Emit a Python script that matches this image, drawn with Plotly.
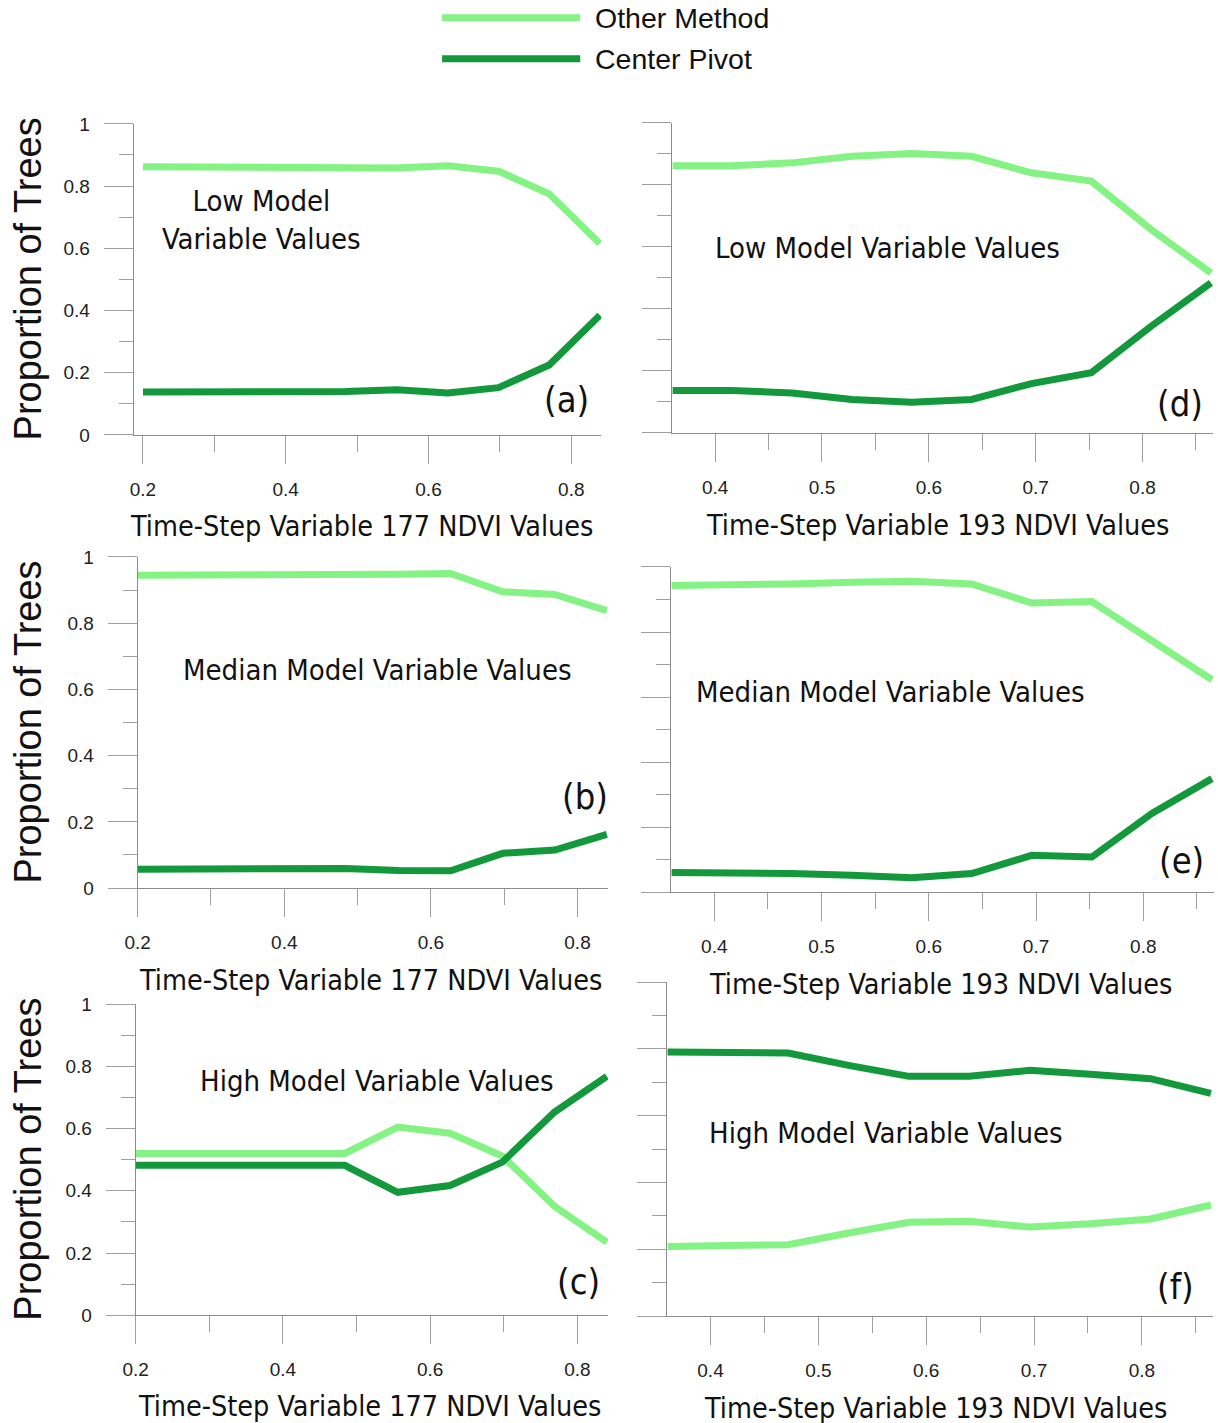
import plotly.graph_objects as go
from plotly.subplots import make_subplots

# Figure size and the mapping from reference-picture pixels to figure paper coords
FW, FH = 1217, 1429
OFF = 8                     # html body margin
SX, OX = 0.988, 4.6         # measured picture scale / offset (horizontal)
SY, OY = 0.985, 2.3         # measured picture scale / offset (vertical)

# ---------------- data ----------------
series_names = ["Other Method", "Center Pivot"]
x177 = [0.2, 0.271, 0.342, 0.413, 0.484, 0.556, 0.627, 0.698, 0.769, 0.84]
x193 = [0.36, 0.416, 0.472, 0.528, 0.584, 0.64, 0.696, 0.752, 0.808, 0.864]

a_other = [0.862, 0.862, 0.862, 0.862, 0.860, 0.858, 0.865, 0.848, 0.775, 0.615]
a_center = [0.138, 0.138, 0.138, 0.138, 0.140, 0.145, 0.135, 0.152, 0.225, 0.385]
b_other = [0.945, 0.945, 0.945, 0.945, 0.943, 0.948, 0.950, 0.895, 0.887, 0.838]
b_center = [0.057, 0.057, 0.057, 0.058, 0.059, 0.053, 0.052, 0.105, 0.115, 0.162]
c_other = [0.520, 0.520, 0.520, 0.520, 0.520, 0.605, 0.585, 0.512, 0.350, 0.235]
c_center = [0.482, 0.482, 0.482, 0.482, 0.482, 0.395, 0.417, 0.492, 0.653, 0.768]
d_other = [0.862, 0.862, 0.871, 0.892, 0.901, 0.892, 0.839, 0.812, 0.656, 0.516]
d_center = [0.137, 0.137, 0.129, 0.108, 0.099, 0.108, 0.159, 0.194, 0.344, 0.484]
e_other = [0.943, 0.943, 0.948, 0.953, 0.956, 0.948, 0.889, 0.894, 0.771, 0.653]
e_center = [0.060, 0.060, 0.057, 0.052, 0.044, 0.057, 0.113, 0.108, 0.242, 0.349]
f_other = [0.209, 0.211, 0.214, 0.249, 0.281, 0.284, 0.267, 0.277, 0.291, 0.333]
f_center = [0.791, 0.791, 0.788, 0.751, 0.718, 0.718, 0.736, 0.724, 0.711, 0.667]

y_title = "Proportion of Trees"
x_title_177 = "Time-Step Variable 177 NDVI Values"
x_title_193 = "Time-Step Variable 193 NDVI Values"
panel_texts = ["Low Model<br>Variable Values", "Median Model Variable Values",
               "High Model Variable Values", "Low Model Variable Values",
               "Median Model Variable Values", "High Model Variable Values"]
panel_tags = ["(a)", "(b)", "(c)", "(d)", "(e)", "(f)"]

# ---------------- style ----------------
LIGHT = "#84F384"
DARK = "#13993B"
FONT = "Liberation Sans, Arial, sans-serif"
COND = "DejaVu Sans Condensed, DejaVu Sans, sans-serif"
TXT = "#111111"
AXC = "#8c8c8c"
TICKC = "#a0a0a0"

panels = [
    # left column
    dict(row=1, col=1, x=x177, o=a_other, c=a_center, xpx=(133, 600), ypx=(124, 435),
         xr=[0.187, 0.842], left=True, xt=x_title_177, xtp=(361, 527),
         txt=panel_texts[0], txp=(261, 220), tag=panel_tags[0], tagp=(565, 400)),
    dict(row=2, col=1, x=x177, o=b_other, c=b_center, xpx=(137, 607), ypx=(557, 888),
         xr=[0.2, 0.842], left=True, xt=x_title_177, xtp=(370, 980),
         txt=panel_texts[1], txp=(377, 670), tag=panel_tags[1], tagp=(584, 796)),
    dict(row=3, col=1, x=x177, o=c_other, c=c_center, xpx=(135, 607), ypx=(1004, 1315),
         xr=[0.2, 0.842], left=True, xt=x_title_177, xtp=(369, 1406),
         txt=panel_texts[2], txp=(376, 1081), tag=panel_tags[2], tagp=(577, 1281)),
    # right column
    dict(row=1, col=2, x=x193, o=d_other, c=d_center, xpx=(671, 1211), ypx=(123, 433),
         xr=[0.36, 0.866], left=False, xt=x_title_193, xtp=(936, 526),
         txt=panel_texts[3], txp=(886, 248), tag=panel_tags[3], tagp=(1178, 404)),
    dict(row=2, col=2, x=x193, o=e_other, c=e_center, xpx=(670, 1212), ypx=(567, 892),
         xr=[0.36, 0.866], left=False, xt=x_title_193, xtp=(939, 984),
         txt=panel_texts[4], txp=(889, 692), tag=panel_tags[4], tagp=(1179, 860)),
    dict(row=3, col=2, x=x193, o=f_other, c=f_center, xpx=(666, 1211), ypx=(982, 1316),
         xr=[0.36, 0.866], left=False, xt=x_title_193, xtp=(934, 1408),
         txt=panel_texts[5], txp=(884, 1133), tag=panel_tags[5], tagp=(1173, 1286)),
]

fig = make_subplots(rows=3, cols=2)


def clamp(v):
    return max(0.0, min(1.0, v))


def px_x(v):
    return ((v - OX) / SX - OFF) / FW


def px_y(v):
    return 1 - ((v - OY) / SY - OFF) / FH


annotations = []
for p in panels:
    fig.add_trace(go.Scatter(x=p["x"], y=p["o"], mode="lines", name=series_names[0],
                             line=dict(color=LIGHT, width=7), showlegend=False),
                  row=p["row"], col=p["col"])
    fig.add_trace(go.Scatter(x=p["x"], y=p["c"], mode="lines", name=series_names[1],
                             line=dict(color=DARK, width=7), showlegend=False),
                  row=p["row"], col=p["col"])
    idx = (p["row"] - 1) * 2 + p["col"]
    n = "" if idx == 1 else str(idx)
    left = p["left"]
    fig.layout["xaxis" + n].update(
        domain=[clamp(px_x(p["xpx"][0])), clamp(px_x(p["xpx"][1]))],
        range=p["xr"], showgrid=False, zeroline=False,
        showline=True, linecolor=AXC, linewidth=1,
        ticks="outside", ticklen=28, tickcolor=TICKC, tickwidth=1,
        tick0=0.2 if left else 0.4, dtick=0.2 if left else 0.1,
        minor=dict(ticks="outside", ticklen=16, tickcolor=TICKC,
                   dtick=0.1 if left else 0.05, tick0=0.2 if left else 0.4),
        tickfont=dict(family=FONT, size=19, color="#222222"),
        ticklabelstandoff=9,
    )
    fig.layout["yaxis" + n].update(
        domain=[clamp(px_y(p["ypx"][1])), clamp(px_y(p["ypx"][0]))],
        range=[0, 1], showgrid=False, zeroline=False,
        showline=True, linecolor=AXC, linewidth=1,
        ticks="outside", ticklen=29, tickcolor=TICKC, tickwidth=1,
        tick0=0, dtick=0.2,
        minor=dict(ticks="outside", ticklen=14, tickcolor=TICKC, dtick=0.1, tick0=0),
        showticklabels=left,
        tickfont=dict(family=FONT, size=19, color="#222222"),
        ticklabelstandoff=10,
    )
    annotations.append(dict(text=p["xt"], x=px_x(p["xtp"][0]), y=px_y(p["xtp"][1]),
                            xref="paper", yref="paper", xanchor="center", yanchor="middle",
                            showarrow=False, font=dict(family=COND, size=28.5, color=TXT)))
    if left:
        yc = (p["ypx"][0] + p["ypx"][1]) / 2
        annotations.append(dict(text=y_title, x=px_x(27.5), y=px_y(yc),
                                xref="paper", yref="paper", xanchor="center", yanchor="middle",
                                textangle=-90, showarrow=False,
                                font=dict(family=FONT, size=38, color=TXT)))
    annotations.append(dict(text=p["txt"], x=px_x(p["txp"][0]), y=px_y(p["txp"][1]),
                            xref="paper", yref="paper", xanchor="center", yanchor="middle",
                            showarrow=False, align="center",
                            font=dict(family=COND, size=29, color=TXT)))
    annotations.append(dict(text=p["tag"], x=px_x(p["tagp"][0]), y=px_y(p["tagp"][1]),
                            xref="paper", yref="paper", xanchor="center", yanchor="middle",
                            showarrow=False, font=dict(family=COND, size=36, color=TXT)))

# legend keys + labels at the top
shapes = []
for name, col, ly in [(series_names[0], LIGHT, 18), (series_names[1], DARK, 59)]:
    shapes.append(dict(type="line", xref="paper", yref="paper",
                       x0=px_x(441), x1=px_x(579), y0=px_y(ly), y1=px_y(ly),
                       line=dict(color=col, width=7)))
    annotations.append(dict(text=name, x=px_x(592), y=px_y(ly), xref="paper", yref="paper",
                            xanchor="left", yanchor="middle", showarrow=False,
                            font=dict(family=FONT, size=28.5, color=TXT)))

fig.update_layout(
    width=FW, height=FH, margin=dict(l=0, r=0, t=0, b=0),
    paper_bgcolor="white", plot_bgcolor="white",
    showlegend=False, annotations=annotations, shapes=shapes,
)

fig.write_html("out.html")
